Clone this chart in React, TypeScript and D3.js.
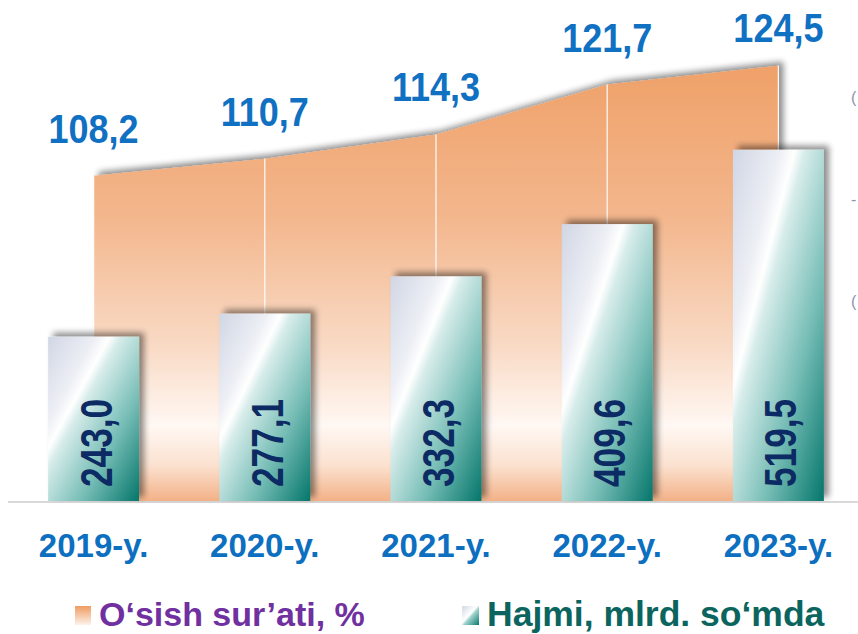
import React from "react";
import * as d3 from "d3";

const years = ["2019-y.", "2020-y.", "2021-y.", "2022-y.", "2023-y."];
const growth = [108.2, 110.7, 114.3, 121.7, 124.5];
const volume = [243.0, 277.1, 332.3, 409.6, 519.5];
const legendLabels = ["O‘sish sur’ati, %", "Hajmi, mlrd. so‘mda"];
const edgeMarks = ["(", "-", "("];

const W = 858;
const H = 634;
const BASE = 501;
const FONT = "'Liberation Sans', Arial, Helvetica, sans-serif";

const fmt = (v: number) => d3.format(".1f")(v).replace(".", ",");

export default function App() {
  const x = d3.scaleBand<string>().domain(years).range([8, 864]).paddingInner(0.469).paddingOuter(0.2345);
  const cx = (d: string) => (x(d) as number) + x.bandwidth() / 2;
  const yBar = d3.scaleLinear().domain([0, 600]).range([BASE, BASE - 405.6]);
  const yArea = d3.scaleLinear().domain([60, 130]).range([BASE, BASE - 472.5]);

  const pts = years.map((d, i) => ({ d, v: growth[i] }));
  const area = d3
    .area<{ d: string; v: number }>()
    .x((p) => cx(p.d))
    .y0(BASE)
    .y1((p) => yArea(p.v));

  return (
    <svg width={W} height={H} style={{ position: "absolute", left: 0, top: 0, background: "#fff" }}>
      <defs>
        <linearGradient id="areaGrad" gradientUnits="userSpaceOnUse" x1="0" y1="60" x2="0" y2={BASE}>
          <stop offset="0" stopColor="#efa067" />
          <stop offset="0.35" stopColor="#f3b68c" />
          <stop offset="0.65" stopColor="#f9dac5" />
          <stop offset="0.83" stopColor="#fff8f3" />
          <stop offset="0.92" stopColor="#fbe1cf" />
          <stop offset="1" stopColor="#f3b187" />
        </linearGradient>
        <linearGradient id="barGrad" x1="0" y1="0" x2="1" y2="1">
          <stop offset="0" stopColor="#d0d6e4" />
          <stop offset="0.26" stopColor="#edeff5" />
          <stop offset="0.34" stopColor="#ffffff" />
          <stop offset="0.4" stopColor="#d6ecea" />
          <stop offset="0.68" stopColor="#76bdb6" />
          <stop offset="1" stopColor="#05766b" />
        </linearGradient>
        <linearGradient id="legOrange" x1="0" y1="0" x2="0" y2="1">
          <stop offset="0" stopColor="#ef9c62" />
          <stop offset="1" stopColor="#fdf2ea" />
        </linearGradient>
        <linearGradient id="legTeal" x1="0" y1="0" x2="1" y2="1">
          <stop offset="0" stopColor="#d2d8e5" />
          <stop offset="0.45" stopColor="#ffffff" />
          <stop offset="0.55" stopColor="#9fd3cd" />
          <stop offset="1" stopColor="#08796e" />
        </linearGradient>
        <filter id="shadow" x="-20%" y="-20%" width="140%" height="140%">
          <feGaussianBlur in="SourceAlpha" stdDeviation="3" />
          <feOffset dx="5" dy="-4" result="b" />
          <feComponentTransfer>
            <feFuncA type="linear" slope="0.45" />
          </feComponentTransfer>
          <feMerge>
            <feMergeNode />
            <feMergeNode in="SourceGraphic" />
          </feMerge>
        </filter>
      </defs>

      {/* baseline */}
      <line x1={8} x2={W} y1={BASE + 1} y2={BASE + 1} stroke="#d9d9d9" strokeWidth={2} />

      {/* area */}
      <path d={area(pts) || ""} fill="url(#areaGrad)" filter="url(#shadow)" />
      {pts.map((p) => (
        <line key={p.d} x1={cx(p.d)} x2={cx(p.d)} y1={yArea(p.v)} y2={BASE} stroke="#fff" strokeWidth={1.3} opacity={0.9} />
      ))}

      {/* bars */}
      {years.map((d, i) => (
        <rect
          key={d}
          x={x(d)}
          y={yBar(volume[i])}
          width={x.bandwidth()}
          height={BASE - yBar(volume[i])}
          fill="url(#barGrad)"
          filter="url(#shadow)"
        />
      ))}

      {/* bar labels */}
      {years.map((d, i) => (
        <text
          key={d}
          transform={`translate(${cx(d) + 18},487) rotate(-90) scale(0.8,1)`}
          fontFamily={FONT}
          fontWeight="bold"
          fontSize={44}
          fill="#0c2a63"
        >
          {fmt(volume[i])}
        </text>
      ))}

      {/* area labels */}
      {pts.map((p) => (
        <text
          key={p.d}
          transform={`translate(${cx(p.d)},${Math.max(yArea(p.v) - 33, 42)}) scale(0.9,1)`}
          textAnchor="middle"
          fontFamily={FONT}
          fontWeight="bold"
          fontSize={40}
          fill="#1070c2"
        >
          {fmt(p.v)}
        </text>
      ))}

      {/* category labels */}
      {years.map((d) => (
        <text key={d} x={cx(d)} y={557} textAnchor="middle" fontFamily={FONT} fontWeight="bold" fontSize={33} fill="#0c6fc0">
          {d}
        </text>
      ))}

      {/* right edge fragments */}
      {edgeMarks.map((m, i) => (
        <text key={i} x={851} y={[103, 205, 307][i]} fontFamily={FONT} fontSize={16} fill="#8a94ae">
          {m}
        </text>
      ))}

      {/* legend */}
      <rect x={75} y={606} width={16} height={19} fill="url(#legOrange)" />
      <text x={99} y={626} fontFamily={FONT} fontWeight="bold" fontSize={34} fill="#7030a0">
        {legendLabels[0]}
      </text>
      <rect x={462} y={606} width={17} height={19} fill="url(#legTeal)" />
      <text x={487} y={626} fontFamily={FONT} fontWeight="bold" fontSize={35.5} fill="#0b655e">
        {legendLabels[1]}
      </text>
    </svg>
  );
}
